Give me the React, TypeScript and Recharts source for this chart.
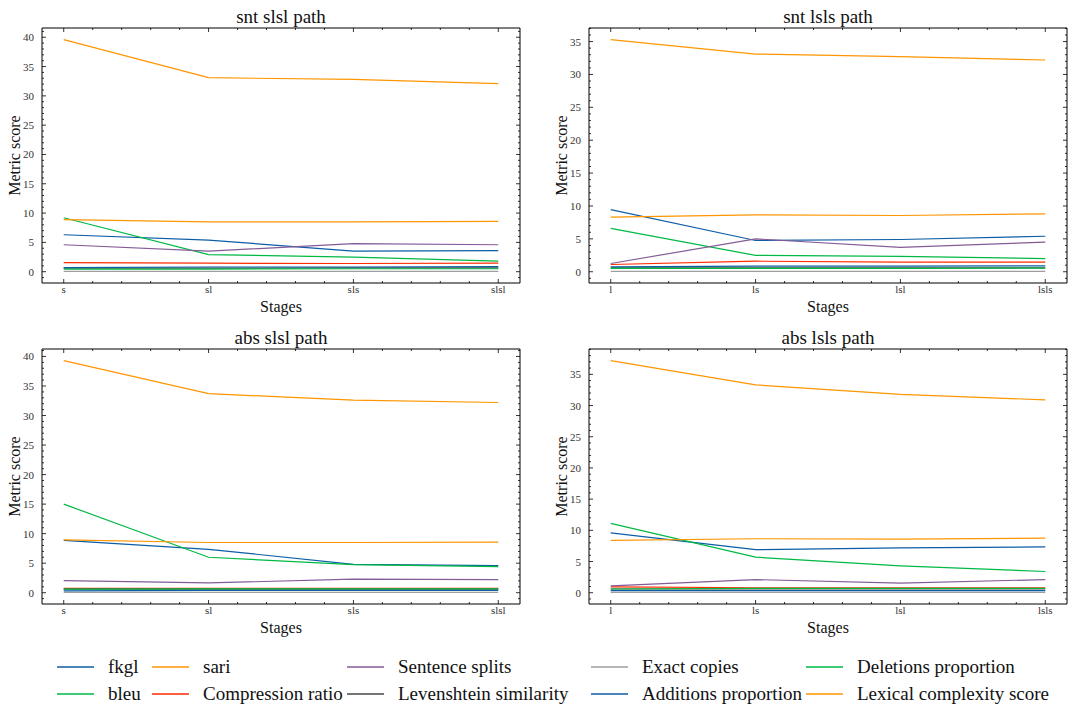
import { LineChart, Line, XAxis, YAxis } from "recharts";

const SERIES_NAMES = [
  "fkgl",
  "bleu",
  "sari",
  "Compression ratio",
  "Sentence splits",
  "Levenshtein similarity",
  "Exact copies",
  "Additions proportion",
  "Deletions proportion",
  "Lexical complexity score",
];
const SERIES_COLORS = [
  "#0C5DA5",
  "#00B945",
  "#FF9500",
  "#FF2C00",
  "#845B97",
  "#474747",
  "#9e9e9e",
  "#0C5DA5",
  "#00B945",
  "#FF9500",
];

const SL_STAGES = ["s", "sl", "sls", "slsl"];
const LS_STAGES = ["l", "ls", "lsl", "lsls"];

// rows follow SERIES_NAMES order
const SNT_SLSL = [
  [6.3, 5.4, 3.5, 3.6],
  [9.2, 2.9, 2.5, 1.8],
  [39.6, 33.1, 32.8, 32.1],
  [1.55, 1.45, 1.4, 1.45],
  [4.6, 3.5, 4.8, 4.6],
  [0.6, 0.6, 0.65, 0.65],
  [0.05, 0.05, 0.05, 0.05],
  [0.7, 0.8, 0.8, 0.85],
  [0.45, 0.45, 0.5, 0.5],
  [8.9, 8.5, 8.5, 8.6],
];

const SNT_LSLS = [
  [9.45, 4.75, 4.9, 5.4],
  [6.6, 2.5, 2.35, 2.0],
  [35.3, 33.1, 32.7, 32.2],
  [1.1, 1.6, 1.45, 1.45],
  [1.25, 5.0, 3.7, 4.5],
  [0.6, 0.6, 0.6, 0.6],
  [0.05, 0.05, 0.05, 0.05],
  [0.75, 0.85, 0.85, 0.9],
  [0.5, 0.5, 0.5, 0.55],
  [8.3, 8.65, 8.55, 8.8],
];

const ABS_SLSL = [
  [8.85, 7.35, 4.8, 4.6],
  [15.0, 6.0, 4.75, 4.4],
  [39.3, 33.7, 32.6, 32.2],
  [0.75, 0.75, 0.75, 0.75],
  [2.05, 1.65, 2.3, 2.2],
  [0.6, 0.6, 0.6, 0.6],
  [0.05, 0.05, 0.05, 0.05],
  [0.3, 0.4, 0.4, 0.4],
  [0.6, 0.65, 0.65, 0.65],
  [8.95, 8.5, 8.5, 8.55],
];

const ABS_LSLS = [
  [9.6, 6.9, 7.2, 7.35],
  [11.1, 5.7, 4.3, 3.4],
  [37.2, 33.3, 31.8, 30.9],
  [0.95, 0.8, 0.8, 0.8],
  [1.1, 2.1, 1.55, 2.1],
  [0.6, 0.6, 0.6, 0.6],
  [0.05, 0.05, 0.05, 0.05],
  [0.35, 0.35, 0.35, 0.35],
  [0.6, 0.7, 0.7, 0.7],
  [8.4, 8.65, 8.6, 8.75],
];

const Y_MAJOR_40 = [0, 5, 10, 15, 20, 25, 30, 35, 40];
const Y_MAJOR_35 = [0, 5, 10, 15, 20, 25, 30, 35];
const X_TICKS = [0, 0.2, 0.4, 0.6, 0.8, 1, 1.2, 1.4, 1.6, 1.8, 2, 2.2, 2.4, 2.6, 2.8, 3];
const X_DOMAIN = [-0.15, 3.15];

const W = 545;
const H = 320;
const FONT = "'Liberation Serif', 'DejaVu Serif', serif";
const INK = "#111";

const isMajorX = (v: number) => Math.abs(v - Math.round(v)) < 1e-6;

function Panel({ title, stages, values, majors, left, top }: any) {
  const data = stages.map((s: string, i: number) => {
    const row: any = { x: i, stage: s };
    values.forEach((vals: number[], k: number) => {
      row["m" + k] = vals[i];
    });
    return row;
  });
  const all = values.flat();
  const lo = Math.min(...all);
  const hi = Math.max(...all);
  const pad = (hi - lo) * 0.05;
  const domain = [lo - pad, hi + pad];
  const yTicks: number[] = [];
  for (let v = Math.ceil(domain[0]); v <= Math.floor(domain[1]); v++) yTicks.push(v);

  const leftTick = ({ x, y, payload }: any) => {
    const v = payload.value;
    const major = majors.includes(v);
    const ax = x + 8;
    return (
      <g>
        <line x1={ax} x2={ax + (major ? 4 : 2)} y1={y} y2={y} stroke="#000" strokeWidth={0.8} />
        {major && (
          <text x={x} y={y} dy={4} textAnchor="end" fontSize={11} fill="#333">
            {v}
          </text>
        )}
      </g>
    );
  };
  const rightTick = ({ x, y, payload }: any) => {
    const major = majors.includes(payload.value);
    return <line x1={x} x2={x - (major ? 4 : 2)} y1={y} y2={y} stroke="#000" strokeWidth={0.8} />;
  };
  const bottomTick = ({ x, y, payload }: any) => {
    const v = payload.value;
    const major = isMajorX(v);
    return (
      <g>
        <line x1={x} x2={x} y1={y} y2={y - (major ? 4 : 2)} stroke="#000" strokeWidth={0.8} />
        {major && (
          <text x={x} y={y + 10} textAnchor="middle" fontSize={11} fill="#333">
            {stages[Math.round(v)]}
          </text>
        )}
      </g>
    );
  };
  const topTick = ({ x, y, payload }: any) => {
    const major = isMajorX(payload.value);
    return <line x1={x} x2={x} y1={y} y2={y + (major ? 4 : 2)} stroke="#000" strokeWidth={0.8} />;
  };

  return (
    <div style={{ position: "absolute", left, top }}>
      <LineChart width={W} height={H} data={data} margin={{ top: 0, right: 0, bottom: 0, left: 0 }}>
        <XAxis
          dataKey="x"
          type="number"
          domain={X_DOMAIN}
          ticks={X_TICKS}
          interval={0}
          tickSize={0}
          tickMargin={0}
          height={37}
          stroke="#000"
          allowDataOverflow
          tick={bottomTick}
          label={{ value: "Stages", position: "insideBottom", offset: 8, fontSize: 16, fill: INK }}
        />
        <XAxis
          xAxisId="top"
          orientation="top"
          dataKey="x"
          type="number"
          domain={X_DOMAIN}
          ticks={X_TICKS}
          interval={0}
          tickSize={0}
          tickMargin={0}
          height={28}
          stroke="#000"
          allowDataOverflow
          tick={topTick}
          label={{ value: title, position: "insideBottom", offset: 5, fontSize: 19, fill: INK }}
        />
        <YAxis
          type="number"
          domain={domain}
          ticks={yTicks}
          interval={0}
          tickSize={0}
          tickMargin={8}
          width={42}
          stroke="#000"
          allowDataOverflow
          tick={leftTick}
          label={{ value: "Metric score", angle: -90, position: "center", dx: -7, fontSize: 16, fill: INK }}
        />
        <YAxis
          yAxisId="right"
          orientation="right"
          type="number"
          domain={domain}
          ticks={yTicks}
          interval={0}
          tickSize={0}
          tickMargin={0}
          width={25}
          stroke="#000"
          allowDataOverflow
          tick={rightTick}
        />
        {SERIES_NAMES.map((name, k) => (
          <Line
            key={name}
            name={name}
            dataKey={"m" + k}
            stroke={SERIES_COLORS[k]}
            strokeWidth={1.2}
            dot={false}
            activeDot={false}
            isAnimationActive={false}
          />
        ))}
      </LineChart>
    </div>
  );
}

const LEGEND_COLS = [57, 152, 347, 591, 806];
const LEGEND_ROWS = [667, 694];

export default function App() {
  return (
    <div
      style={{
        position: "absolute",
        left: 0,
        top: 0,
        width: 1092,
        height: 707,
        background: "#fff",
        fontFamily: FONT,
        color: INK,
      }}
    >
      <Panel title="snt slsl path" stages={SL_STAGES} values={SNT_SLSL} majors={Y_MAJOR_40} left={0} top={0} />
      <Panel title="snt lsls path" stages={LS_STAGES} values={SNT_LSLS} majors={Y_MAJOR_35} left={547} top={0} />
      <Panel title="abs slsl path" stages={SL_STAGES} values={ABS_SLSL} majors={Y_MAJOR_40} left={0} top={321} />
      <Panel title="abs lsls path" stages={LS_STAGES} values={ABS_LSLS} majors={Y_MAJOR_35} left={547} top={321} />
      {SERIES_NAMES.map((name, i) => (
        <div
          key={name}
          style={{
            position: "absolute",
            left: LEGEND_COLS[Math.floor(i / 2)],
            top: LEGEND_ROWS[i % 2] - 12,
            height: 24,
            display: "flex",
            alignItems: "center",
            fontSize: 19,
            whiteSpace: "nowrap",
          }}
        >
          <svg width={37} height={4} style={{ marginRight: 14, display: "block" }}>
            <line x1={0} x2={37} y1={2} y2={2} stroke={SERIES_COLORS[i]} strokeWidth={1.5} />
          </svg>
          <span>{name}</span>
        </div>
      ))}
    </div>
  );
}
